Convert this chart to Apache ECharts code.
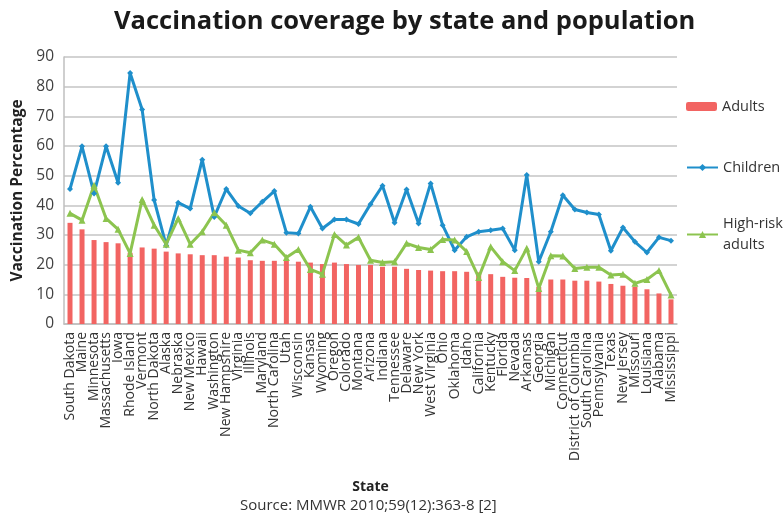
<!DOCTYPE html>
<html>
<head>
<meta charset="utf-8">
<script src="https://cdn.jsdelivr.net/npm/echarts@6/dist/echarts.min.js"></script>
<style>
  html, body { margin: 0; padding: 0; background: #fff; }
  #chart { width: 783px; height: 518px; }
</style>
</head>
<body>
<div id="chart"></div>
<script>
var states = ['South Dakota', 'Maine', 'Minnesota', 'Massachusetts', 'Iowa', 'Rhode Island', 'Vermont', 'North Dakota',
	'Alaska', 'Nebraska', 'New Mexico', 'Hawaii', 'Washington', 'New Hampshire', 'Virginia', 'Illinois', 'Maryland',
	'North Carolina', 'Utah', 'Wisconsin', 'Kansas', 'Wyoming', 'Oregon', 'Colorado', 'Montana', 'Arizona', 'Indiana',
	'Tennessee', 'Delaware', 'New York', 'West Virginia', 'Ohio', 'Oklahoma', 'Idaho', 'California', 'Kentucky',
	'Florida', 'Nevada', 'Arkansas', 'Georgia', 'Michigan', 'Connecticut', 'District of Columbia', 'South Carolina',
	'Pennsylvania', 'Texas', 'New Jersey', 'Missouri', 'Louisiana', 'Alabama', 'Mississippi'];

var adults = [34.1, 31.9, 28.3, 27.6, 27.2, 24.0, 25.8, 25.4, 24.4, 23.8, 23.5, 23.2, 23.2, 22.7, 22.4, 21.5, 21.3,
	21.3, 21.3, 21.0, 20.7, 20.2, 20.7, 20.2, 19.9, 19.9, 19.3, 19.3, 18.6, 18.2, 18.0, 17.8, 17.8, 17.6, 17.4, 16.8,
	15.9, 15.6, 15.5, 12.5, 15.0, 15.0, 14.6, 14.6, 14.3, 13.5, 12.9, 12.6, 11.7, 10.3, 8.3];

var children = [45.5, 59.9, 44.0, 59.9, 47.6, 84.6, 72.3, 41.8, 26.5, 40.9, 38.9, 55.4, 36.1, 45.5, 39.8, 37.3, 41.2,
	44.8, 30.8, 30.5, 39.5, 32.2, 35.2, 35.2, 33.7, 40.4, 46.6, 34.1, 45.3, 33.9, 47.4, 33.3, 24.9, 29.4, 31.1, 31.6,
	32.2, 24.9, 50.2, 21.0, 31.1, 43.4, 38.6, 37.6, 36.9, 24.7, 32.5, 27.7, 24.1, 29.2, 28.1];

var highRisk = [37.3, 35.0, 46.8, 35.6, 31.9, 23.8, 42.0, 33.3, 26.9, 35.6, 26.9, 31.1, 37.5, 33.3, 24.9, 24.0, 28.3,
	26.9, 22.4, 25.1, 18.4, 16.8, 30.2, 26.6, 29.2, 21.5, 20.7, 21.0, 27.2, 25.8, 25.1, 28.5, 28.3, 24.4, 15.7, 26.0,
	21.0, 18.0, 25.5, 12.0, 23.0, 22.9, 18.7, 19.1, 19.1, 16.5, 16.8, 13.7, 15.0, 18.0, 9.8];

var red = '#f26462', blue = '#1f8fcb', green = '#8cc44f';
var font = 'Open Sans';

var chart = echarts.init(document.getElementById('chart'));

chart.setOption({
	animation: false,
	textStyle: { fontFamily: font },
	title: {
		text: 'Vaccination coverage by state and population',
		left: 109,
		top: 4,
		textStyle: { fontFamily: font, fontSize: 25.5, fontWeight: 'bold', color: '#1a1a1a' }
	},
	legend: [{
		data: ['Adults'],
		left: 681, top: 94,
		itemWidth: 31, itemHeight: 9,
		textStyle: { fontSize: 14.5, color: '#333' }
	}, {
		data: ['Children'],
		left: 681, top: 155,
		itemWidth: 31, itemHeight: 9,
		textStyle: { fontSize: 14.5, color: '#333' }
	}, {
		data: ['High-risk adults'],
		left: 681, top: 198,
		itemWidth: 31, itemHeight: 9,
		formatter: function() { return 'High-risk\nadults'; },
		textStyle: { fontSize: 14.5, color: '#333', lineHeight: 21, padding: [21, 0, 0, 0] }
	}],
	grid: { left: 64, right: 106, top: 57, bottom: 194 },
	xAxis: {
		type: 'category',
		data: states,
		name: 'State',
		nameLocation: 'middle',
		nameGap: 156,
		nameTextStyle: { fontSize: 14, fontWeight: 'bold', color: '#222' },
		axisLine: { lineStyle: { color: '#bfbfbf', width: 1.5 } },
		axisTick: { show: false },
		axisLabel: { rotate: 90, interval: 0, fontSize: 14, color: '#333', margin: 8 }
	},
	yAxis: {
		type: 'value',
		min: 0, max: 90, interval: 10,
		name: 'Vaccination Percentage',
		nameLocation: 'middle',
		nameGap: 38,
		nameTextStyle: { fontSize: 15.5, fontWeight: 'bold', color: '#222' },
		axisLine: { show: true, lineStyle: { color: '#bfbfbf', width: 1.5 } },
		axisLabel: { fontSize: 15.5, color: '#404040', margin: 10 },
		splitLine: { lineStyle: { color: '#c4c4c4', width: 1.5 } }
	},
	graphic: [{
		type: 'text',
		left: 240, top: 498,
		style: { text: 'Source: MMWR 2010;59(12):363-8 [2]', fontFamily: font, fontSize: 15, fill: '#333' }
	}],
	series: [{
		name: 'Adults',
		type: 'bar',
		data: adults,
		barWidth: 5,
		itemStyle: { color: red }
	}, {
		name: 'Children',
		type: 'line',
		data: children,
		symbol: 'diamond',
		symbolSize: 6,
		lineStyle: { color: blue, width: 3 },
		itemStyle: { color: blue }
	}, {
		name: 'High-risk adults',
		type: 'line',
		data: highRisk,
		symbol: 'triangle',
		symbolSize: 7,
		lineStyle: { color: green, width: 3 },
		itemStyle: { color: green }
	}]
});
</script>
</body>
</html>
